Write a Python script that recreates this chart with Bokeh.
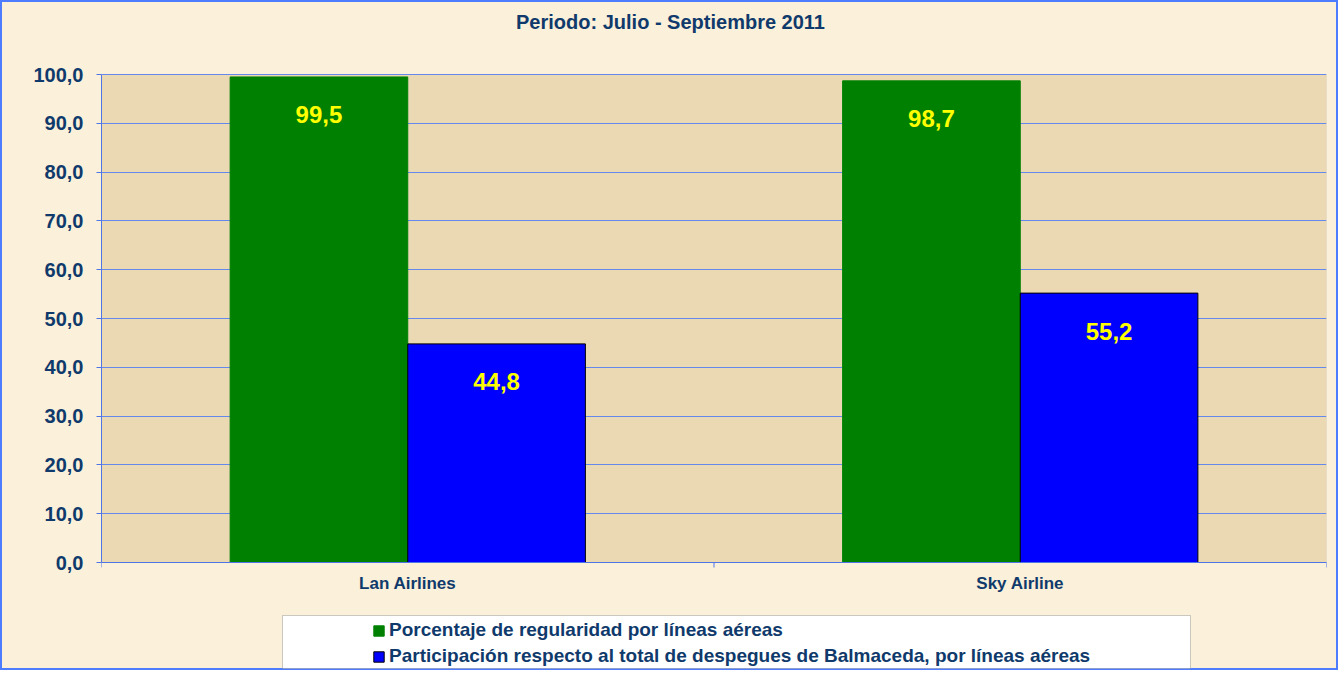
from bokeh.plotting import figure
from bokeh.models import (ColumnDataSource, Range1d, SingleIntervalTicker,
                          CustomJSTickFormatter, Label, Legend, LegendItem,
                          BoxAnnotation)
from bokeh.transform import dodge
from bokeh.core.properties import value
from bokeh.embed import file_html
from bokeh.resources import INLINE

# ---------------- data ----------------
title_text = "Periodo: Julio - Septiembre 2011"
airlines = ["Lan Airlines", "Sky Airline"]
regularidad = [99.5, 98.7]
participacion = [44.8, 55.2]
series_names = [
    "Porcentaje de regularidad por líneas aéreas",
    "Participación respecto al total de despegues de Balmaceda, por líneas aéreas",
]
y_min, y_max, y_step = 0, 100, 10


def fmt(v):
    return f"{v:.1f}".replace(".", ",")


src = ColumnDataSource(dict(
    airline=airlines,
    reg=regularidad,
    par=participacion,
    reg_lbl=[fmt(v) for v in regularidad],
    par_lbl=[fmt(v) for v in participacion],
))

FONT = "Liberation Sans"
NAVY = "#0F3A6B"
GRID = "#6488EC"
AXIS = "#4F74E6"
CREAM = "#FBF0DA"

W, H = 1338, 670
FRAME_L, FRAME_R = 101, 1326          # frame horizontal extent (px)
Y0_PX, Y100_PX = 562, 74              # pixel rows of value 0 and 100
ppu = (Y0_PX - Y100_PX) / (y_max - y_min)
y_lo = y_min - (H - Y0_PX) / ppu
y_hi = y_max + Y100_PX / ppu

p = figure(x_range=airlines, y_range=Range1d(y_lo, y_hi),
           width=W, height=H, output_backend="svg",
           toolbar_location=None, tools="",
           min_border_left=FRAME_L, min_border_right=W - FRAME_R,
           min_border_top=0, min_border_bottom=0)

p.background_fill_color = None
p.border_fill_color = None
p.outline_line_color = None
p.styles = {"outline": "2px solid #4E7CFF", "outline-offset": "-2px",
            "background-color": CREAM}

# plot area background with grey frame
p.add_layout(BoxAnnotation(bottom=y_min, top=y_max, fill_color="#EBD9B4",
                           fill_alpha=1, line_color="#8C8C8C", line_width=1,
                           level="image"))

# bars
r1 = p.vbar(x=dodge("airline", -0.145, range=p.x_range), top="reg", width=0.29,
            source=src, fill_color="#008000", line_color="#008000")
r2 = p.vbar(x=dodge("airline", 0.145, range=p.x_range), top="par", width=0.29,
            source=src, fill_color="#0000FF", line_color="#000000")

# data labels
for col, lbl, off in (("reg", "reg_lbl", -0.145), ("par", "par_lbl", 0.145)):
    p.text(x=dodge("airline", off, range=p.x_range), y=col, text=lbl, source=src,
           y_offset=38, text_align="center", text_baseline="middle",
           text_color="#FFFF00", text_font=value(FONT), text_font_style="bold",
           text_font_size="24px")

# y axis
yax = p.yaxis[0]
yax.ticker = SingleIntervalTicker(interval=y_step)
yax.bounds = (y_min, y_max)
yax.formatter = CustomJSTickFormatter(code="return tick.toFixed(1).replace('.', ',');")
yax.axis_line_color = AXIS
yax.major_tick_line_color = AXIS
yax.major_tick_out = 5
yax.major_tick_in = 0
yax.minor_tick_line_color = None
yax.major_label_standoff = 13
yax.major_label_text_font = FONT
yax.major_label_text_font_style = "bold"
yax.major_label_text_font_size = "20px"
yax.major_label_text_color = NAVY

# x axis, pinned at y = 0
xax = p.xaxis[0]
xax.fixed_location = y_min
xax.axis_line_color = AXIS
xax.major_tick_line_color = None
xax.major_tick_out = 0
xax.major_tick_in = 0
xax.major_label_standoff = 11
xax.major_label_text_font = FONT
xax.major_label_text_font_style = "bold"
xax.major_label_text_font_size = "17px"
xax.major_label_text_color = NAVY

# category boundary ticks on the x axis
bounds = list(range(0, len(airlines) + 1))
p.segment(x0=bounds, x1=bounds, y0=[y_min] * len(bounds),
          y1=[y_min - 5 / ppu] * len(bounds), line_color=AXIS, line_width=1)

p.xgrid.grid_line_color = None
p.ygrid.grid_line_color = GRID
p.ygrid.grid_line_width = 1
p.ygrid.bounds = (y_min, y_max)

# title
p.add_layout(Label(x=670 - FRAME_L, y=H - 21, x_units="screen", y_units="screen",
                   text=title_text, text_align="center", text_baseline="middle",
                   text_font=FONT, text_font_style="bold", text_font_size="20px",
                   text_color=NAVY))

# legend box + legend
p.add_layout(BoxAnnotation(left=282 - FRAME_L, right=1190 - FRAME_L,
                           top=H - 615, bottom=H - 668,
                           left_units="screen", right_units="screen",
                           top_units="screen", bottom_units="screen",
                           fill_color="white", fill_alpha=1,
                           line_color="#555555", line_width=1))

legend = Legend(items=[LegendItem(label=series_names[0], renderers=[r1]),
                       LegendItem(label=series_names[1], renderers=[r2])],
                location=(372 - FRAME_L, H - 667), padding=0, margin=0,
                border_line_color=None, background_fill_alpha=0,
                glyph_width=13, glyph_height=13, label_standoff=4, spacing=4,
                label_text_font=FONT, label_text_font_style="bold",
                label_text_font_size="19px", label_text_color=NAVY)
p.add_layout(legend)

open("out.html", "w").write(file_html(p, INLINE))
